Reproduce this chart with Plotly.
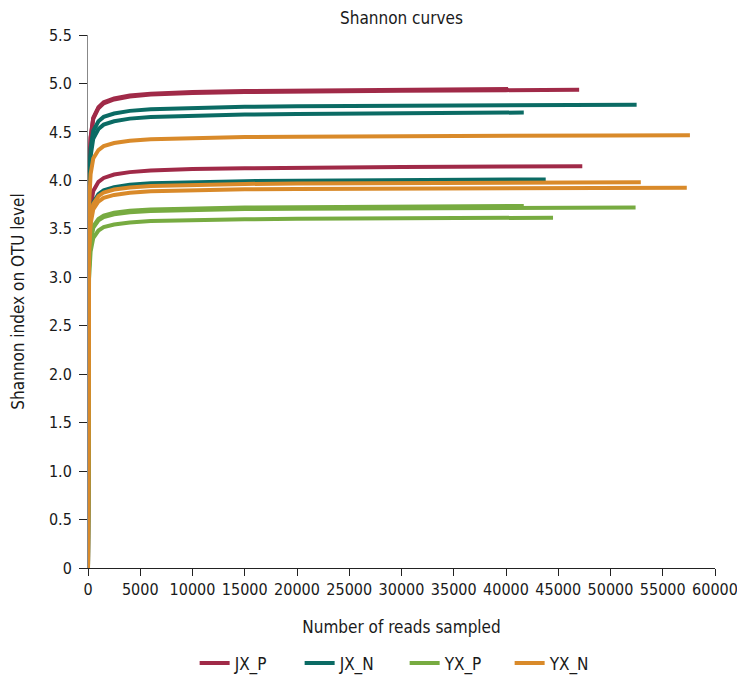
import plotly.graph_objects as go

# Rarefaction depths (reads sampled) shared by all curves; each curve stops at its own end depth
depth_grid = [1, 100, 250, 500, 1000, 1500, 2500, 4000, 6000, 10000, 15000, 20000, 30000, 40000, 50000]

groups = ["JX_P", "JX_N", "YX_P", "YX_N"]
colors = ["#A02A48", "#0B6B64", "#77AB41", "#D98A2A"]

jx_p_ends = [47000, 40200, 47300]
jx_p_values = [
    [0, 4.035, 4.435, 4.635, 4.745, 4.795, 4.835, 4.865, 4.885, 4.902, 4.912, 4.918, 4.926, 4.931, 4.935],
    [0, 4.045, 4.445, 4.645, 4.755, 4.805, 4.845, 4.875, 4.895, 4.912, 4.922, 4.928, 4.936, 4.943, 4.944],
    [0, 3.38, 3.72, 3.89, 3.985, 4.025, 4.06, 4.085, 4.102, 4.117, 4.125, 4.131, 4.137, 4.142, 4.145],
]
jx_n_ends = [52500, 41700, 43800]
jx_n_values = [
    [0, 3.97, 4.33, 4.51, 4.61, 4.655, 4.69, 4.717, 4.735, 4.75, 4.759, 4.765, 4.772, 4.776, 4.778, 4.78],
    [0, 3.89, 4.25, 4.43, 4.53, 4.575, 4.61, 4.637, 4.655, 4.67, 4.679, 4.685, 4.692, 4.697, 4.70],
    [0, 3.29, 3.61, 3.77, 3.858, 3.898, 3.93, 3.954, 3.97, 3.984, 3.992, 3.996, 4.003, 4.007, 4.01],
]
yx_p_ends = [52400, 41700, 44500]
yx_p_values = [
    [0, 3.09, 3.37, 3.51, 3.587, 3.622, 3.65, 3.671, 3.685, 3.697, 3.704, 3.708, 3.714, 3.717, 3.719, 3.72],
    [0, 3.105, 3.385, 3.525, 3.602, 3.637, 3.665, 3.686, 3.70, 3.712, 3.719, 3.723, 3.729, 3.733, 3.735],
    [0, 2.985, 3.265, 3.405, 3.482, 3.517, 3.545, 3.566, 3.58, 3.592, 3.599, 3.603, 3.609, 3.612, 3.615],
]
yx_n_ends = [57600, 52900, 57300]
yx_n_values = [
    [0, 3.745, 4.065, 4.225, 4.313, 4.353, 4.385, 4.409, 4.425, 4.439, 4.447, 4.451, 4.458, 4.462, 4.463, 4.465],
    [0, 3.305, 3.605, 3.755, 3.837, 3.875, 3.905, 3.927, 3.942, 3.955, 3.963, 3.967, 3.973, 3.977, 3.978, 3.98],
    [0, 3.25, 3.55, 3.70, 3.782, 3.82, 3.85, 3.872, 3.887, 3.90, 3.908, 3.912, 3.918, 3.922, 3.923, 3.925],
]

x_tick_vals = [0, 5000, 10000, 15000, 20000, 25000, 30000, 35000, 40000, 45000, 50000, 55000, 60000]
x_tick_text = ["0", "5000", "10000", "15000", "20000", "25000", "30000", "35000", "40000", "45000", "50000", "55000", "60000"]
y_tick_vals = [0, 0.5, 1.0, 1.5, 2.0, 2.5, 3.0, 3.5, 4.0, 4.5, 5.0, 5.5]
y_tick_text = ["0", "0.5", "1.0", "1.5", "2.0", "2.5", "3.0", "3.5", "4.0", "4.5", "5.0", "5.5"]

all_ends = [jx_p_ends, jx_n_ends, yx_p_ends, yx_n_ends]
all_values = [jx_p_values, jx_n_values, yx_p_values, yx_n_values]

FONT = "DejaVu Sans Condensed, DejaVu Sans"
TXT = "#1a1a1a"
W, H = 729, 685
T, B = 27, 105
PLOT_H = H - T - B

fig = go.Figure()
for g, col, ends, vals in zip(groups, colors, all_ends, all_values):
    for i, (end, v) in enumerate(zip(ends, vals)):
        xs = [d for d in depth_grid if d < end] + [end]
        fig.add_trace(go.Scatter(
            x=xs, y=v, mode="lines", name=g, legendgroup=g,
            showlegend=(i == 0),
            line=dict(color=col, width=4),
        ))

fig.update_layout(
    width=W, height=H,
    paper_bgcolor="white", plot_bgcolor="white",
    margin=dict(l=80, r=22, t=T, b=B),
    font=dict(family=FONT, size=16, color=TXT),
    title=dict(text="Shannon curves", x=0.5, xref="paper", xanchor="center",
               y=1 - 10 / H, yanchor="middle", font=dict(size=17, color=TXT)),
    showlegend=True,
    legend=dict(orientation="h", x=0.505, xanchor="center", y=-99 / PLOT_H, yanchor="middle",
                font=dict(size=17), traceorder="normal", itemwidth=30,
                entrywidth=60, entrywidthmode="pixels", tracegroupgap=0),
    xaxis=dict(range=[0, 60000], tickvals=x_tick_vals, ticktext=x_tick_text,
               showgrid=False, zeroline=False, showline=True, linecolor="#222", linewidth=1,
               ticks="outside", ticklen=7, tickcolor="#222", automargin=False,
               ticklabeloverflow="allow",
               title=dict(text="Number of reads sampled", standoff=22, font=dict(size=17)),
               tickfont=dict(size=16)),
    yaxis=dict(range=[0, 5.5], tickvals=y_tick_vals, ticktext=y_tick_text,
               showgrid=False, zeroline=False, showline=True, linecolor="#888", linewidth=1,
               ticks="outside", ticklen=8, tickcolor="#222", automargin=False,
               ticklabelstandoff=4,
               title=dict(text="Shannon index on OTU level", standoff=22, font=dict(size=17)),
               tickfont=dict(size=16)),
)

fig.write_html("out.html")
